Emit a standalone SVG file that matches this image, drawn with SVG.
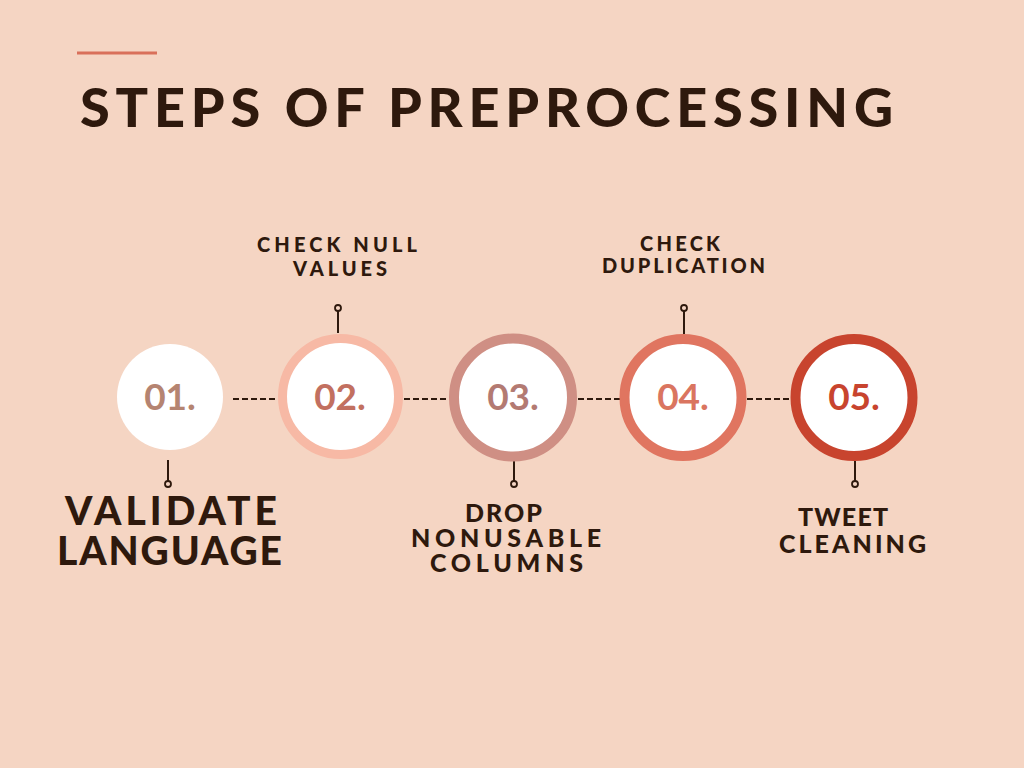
<svg xmlns="http://www.w3.org/2000/svg" width="1024" height="768" viewBox="0 0 1024 768">
<style>
.t{font-family:Lato,"Liberation Sans",sans-serif;font-weight:900;fill:#2E190D}
.n{font-family:Lato,"Liberation Sans",sans-serif;font-weight:700;text-anchor:middle}
.c{fill:#FFFFFF}
.tick{stroke:#2E190D;stroke-width:2;fill:none}
.dot{stroke:#2E190D;stroke-width:1.8;fill:#F5D5C3}
.dash{stroke:#2E190D;stroke-width:2;stroke-dasharray:6 3}
</style>
<rect width="1024" height="768" fill="#F5D5C3"/>
<g id="title">
<rect x="77" y="51.5" width="80" height="3" fill="#D9705A"/>
<text class="t" x="80" y="127" font-size="54" textLength="813" lengthAdjust="spacing">STEPS OF PREPROCESSING</text>
</g>
<g id="connectors">
<line class="dash" x1="233" y1="399" x2="278" y2="399"/>
<line class="dash" x1="404" y1="399" x2="449" y2="399"/>
<line class="dash" x1="578" y1="399" x2="620" y2="399"/>
<line class="dash" x1="747" y1="399" x2="791" y2="399"/>
<line class="tick" x1="168" y1="460" x2="168" y2="481"/>
<circle class="dot" cx="168" cy="484" r="3"/>
<line class="tick" x1="338" y1="311" x2="338" y2="333"/>
<circle class="dot" cx="338" cy="308" r="3"/>
<line class="tick" x1="514" y1="461" x2="514" y2="481"/>
<circle class="dot" cx="514" cy="484" r="3"/>
<line class="tick" x1="684" y1="311" x2="684" y2="334"/>
<circle class="dot" cx="684" cy="308" r="3"/>
<line class="tick" x1="855" y1="461" x2="855" y2="481"/>
<circle class="dot" cx="855" cy="484" r="3"/>
</g>
<g id="step1">
<circle class="c" cx="170" cy="397" r="53"/>
<text class="n" x="170" y="410" font-size="37" fill="#B58471">01.</text>
<text class="t" x="65" y="525" font-size="39" textLength="212" lengthAdjust="spacing">VALIDATE</text>
<text class="t" x="57" y="565" font-size="39" textLength="225" lengthAdjust="spacing">LANGUAGE</text>
</g>
<g id="step2">
<circle cx="340.5" cy="396.5" r="58" fill="#FFFFFF" stroke="#F7B9A5" stroke-width="9"/>
<text class="n" x="340" y="410" font-size="37" fill="#C27060">02.</text>
<text class="t" x="257" y="252" font-size="20" textLength="160" lengthAdjust="spacing">CHECK  NULL</text>
<text class="t" x="293" y="276" font-size="20" textLength="94" lengthAdjust="spacing">VALUES</text>
</g>
<g id="step3">
<circle cx="513" cy="397.5" r="59" fill="#FFFFFF" stroke="#CF8F84" stroke-width="10"/>
<text class="n" x="513" y="410" font-size="37" fill="#B37A72">03.</text>
<text class="t" x="465" y="522" font-size="25" textLength="77" lengthAdjust="spacing">DROP</text>
<text class="t" x="411" y="547" font-size="25" textLength="190" lengthAdjust="spacing">NONUSABLE</text>
<text class="t" x="430" y="572" font-size="25" textLength="153" lengthAdjust="spacing">COLUMNS</text>
</g>
<g id="step4">
<circle cx="683" cy="397.5" r="58.5" fill="#FFFFFF" stroke="#E07560" stroke-width="10"/>
<text class="n" x="683" y="410" font-size="37" fill="#DA7560">04.</text>
<text class="t" x="640" y="251" font-size="20" textLength="80" lengthAdjust="spacing">CHECK</text>
<text class="t" x="602" y="273" font-size="20" textLength="163" lengthAdjust="spacing">DUPLICATION</text>
</g>
<g id="step5">
<circle cx="854" cy="397.5" r="58.5" fill="#FFFFFF" stroke="#C8442E" stroke-width="10"/>
<text class="n" x="854" y="410" font-size="37" fill="#C8442E">05.</text>
<text class="t" x="798" y="526" font-size="25" textLength="90" lengthAdjust="spacing">TWEET</text>
<text class="t" x="779" y="553" font-size="25" textLength="147" lengthAdjust="spacing">CLEANING</text>
</g>
</svg>
